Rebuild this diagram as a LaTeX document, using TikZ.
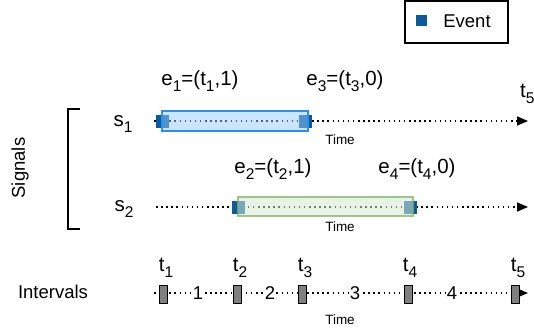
\documentclass[tikz,border=0pt]{standalone}
\usepackage{fontspec}
\setmainfont{Liberation Sans}
\usetikzlibrary{arrows.meta}
\definecolor{evblue}{HTML}{0B5A9E}
\definecolor{barblue}{HTML}{2B8FEF}
\definecolor{barfill}{HTML}{99CCFF}
\definecolor{bargreen}{HTML}{82B366}
\definecolor{barfillg}{HTML}{D5E8D4}
\definecolor{ivgray}{HTML}{808080}
\newcommand{\sbx}[1]{\raisebox{-5.5pt}{\fontsize{15.5}{16}\selectfont #1}}
\tikzset{
  lbl/.style={font=\fontsize{18.5}{20}\selectfont, inner sep=0pt},
  biglbl/.style={font=\fontsize{20.5}{22}\selectfont, inner sep=0pt},
  timelbl/.style={font=\fontsize{13.5}{15}\selectfont, inner sep=0pt},
  dotline/.style={line width=1.5pt, dash pattern=on 1.5pt off 3.6pt, -{Triangle[length=11pt,width=9pt]}},
  evsq/.style={fill=evblue, draw=none, minimum width=13pt, minimum height=13pt, inner sep=0pt},
  bar1/.style={draw=barblue, line width=1.6pt, fill=barfill, fill opacity=0.5, minimum width=146pt, minimum height=20pt, inner sep=0pt},
  bar2/.style={draw=bargreen, draw opacity=0.75, line width=1.6pt, fill=barfillg, fill opacity=0.55, minimum width=175pt, minimum height=19pt, inner sep=0pt},
  ivbox/.style={draw=black, line width=1pt, fill=ivgray, minimum width=8pt, minimum height=18pt, inner sep=0pt},
  ivnum/.style={font=\fontsize{18.5}{20}\selectfont, fill=white, inner sep=0.6pt},
}
\begin{document}
\begin{tikzpicture}[x=1pt,y=-1pt]
\useasboundingbox (0,0) rectangle (534,334);
% legend
\node[draw, line width=1.3pt, minimum width=103pt, minimum height=42pt, inner sep=0pt] (legend) at (456.5,22) {};
\node[evsq, minimum width=11pt, minimum height=11pt] (legsq) at (421,21) {};
\node[lbl] (legtxt) at (467,21) {Event};
% bracket and labels
\coordinate (bt1) at (80,109);
\coordinate (bt2) at (68,109);
\coordinate (bb1) at (68,229);
\coordinate (bb2) at (80,229);
\draw[line width=1.3pt] (bt1) -- (bt2) -- (bb1) -- (bb2);
\node[lbl, rotate=90] (signals) at (20,168) {Signals};
\node[biglbl] (s1) at (123,124) {s\sbx{1}};
\node[biglbl] (s2) at (124,209) {s\sbx{2}};
\node[lbl] (intervals) at (53,292) {Intervals};
% signal 1
\coordinate (s1a) at (154,121);
\coordinate (s1b) at (528,121);
\draw[dotline] (s1a) -- (s1b);
\node[evsq] (ev1) at (162.5,121) {};
\node[evsq] (ev3) at (305,121) {};
\node[bar1] (barA) at (235,121) {};
\node[biglbl] (e1) at (200,81) {e\sbx{1}=(t\sbx{1},1)};
\node[biglbl] (e3) at (345,81) {e\sbx{3}=(t\sbx{3},0)};
\node[biglbl, anchor=west] (t5top) at (520,94) {t\sbx{5}};
\node[timelbl] (time1) at (340,140) {Time};
% signal 2
\coordinate (s2a) at (156,207);
\coordinate (s2b) at (528,207);
\draw[dotline] (s2a) -- (s2b);
\node[evsq] (ev2) at (238.5,207) {};
\node[evsq] (ev4) at (410,207) {};
\node[bar2] (barB) at (325.5,206.5) {};
\node[biglbl] (e2) at (273,169) {e\sbx{2}=(t\sbx{2},1)};
\node[biglbl] (e4) at (417,169) {e\sbx{4}=(t\sbx{4},0)};
\node[timelbl] (time2) at (340,227) {Time};
% intervals
\coordinate (iva) at (154,293);
\coordinate (ivb) at (528,293);
\draw[dotline] (iva) -- (ivb);
\node[ivbox] (b1) at (163,294) {};
\node[ivbox] (b2) at (237,294) {};
\node[ivbox] (b3) at (302.5,294) {};
\node[ivbox] (b4) at (408,294) {};
\node[ivbox] (b5) at (515.5,294) {};
\node[ivnum] (n1) at (198,293) {1};
\node[ivnum] (n2) at (270,293) {2};
\node[ivnum] (n3) at (355,293) {3};
\node[ivnum] (n4) at (452,293) {4};
\node[biglbl] (t1) at (166,268) {t\sbx{1}};
\node[biglbl] (t2) at (240,268) {t\sbx{2}};
\node[biglbl] (t3) at (305,268) {t\sbx{3}};
\node[biglbl] (t4) at (410,268) {t\sbx{4}};
\node[biglbl] (t5) at (518,268) {t\sbx{5}};
\node[timelbl] (time3) at (340,320) {Time};
\end{tikzpicture}
\end{document}
